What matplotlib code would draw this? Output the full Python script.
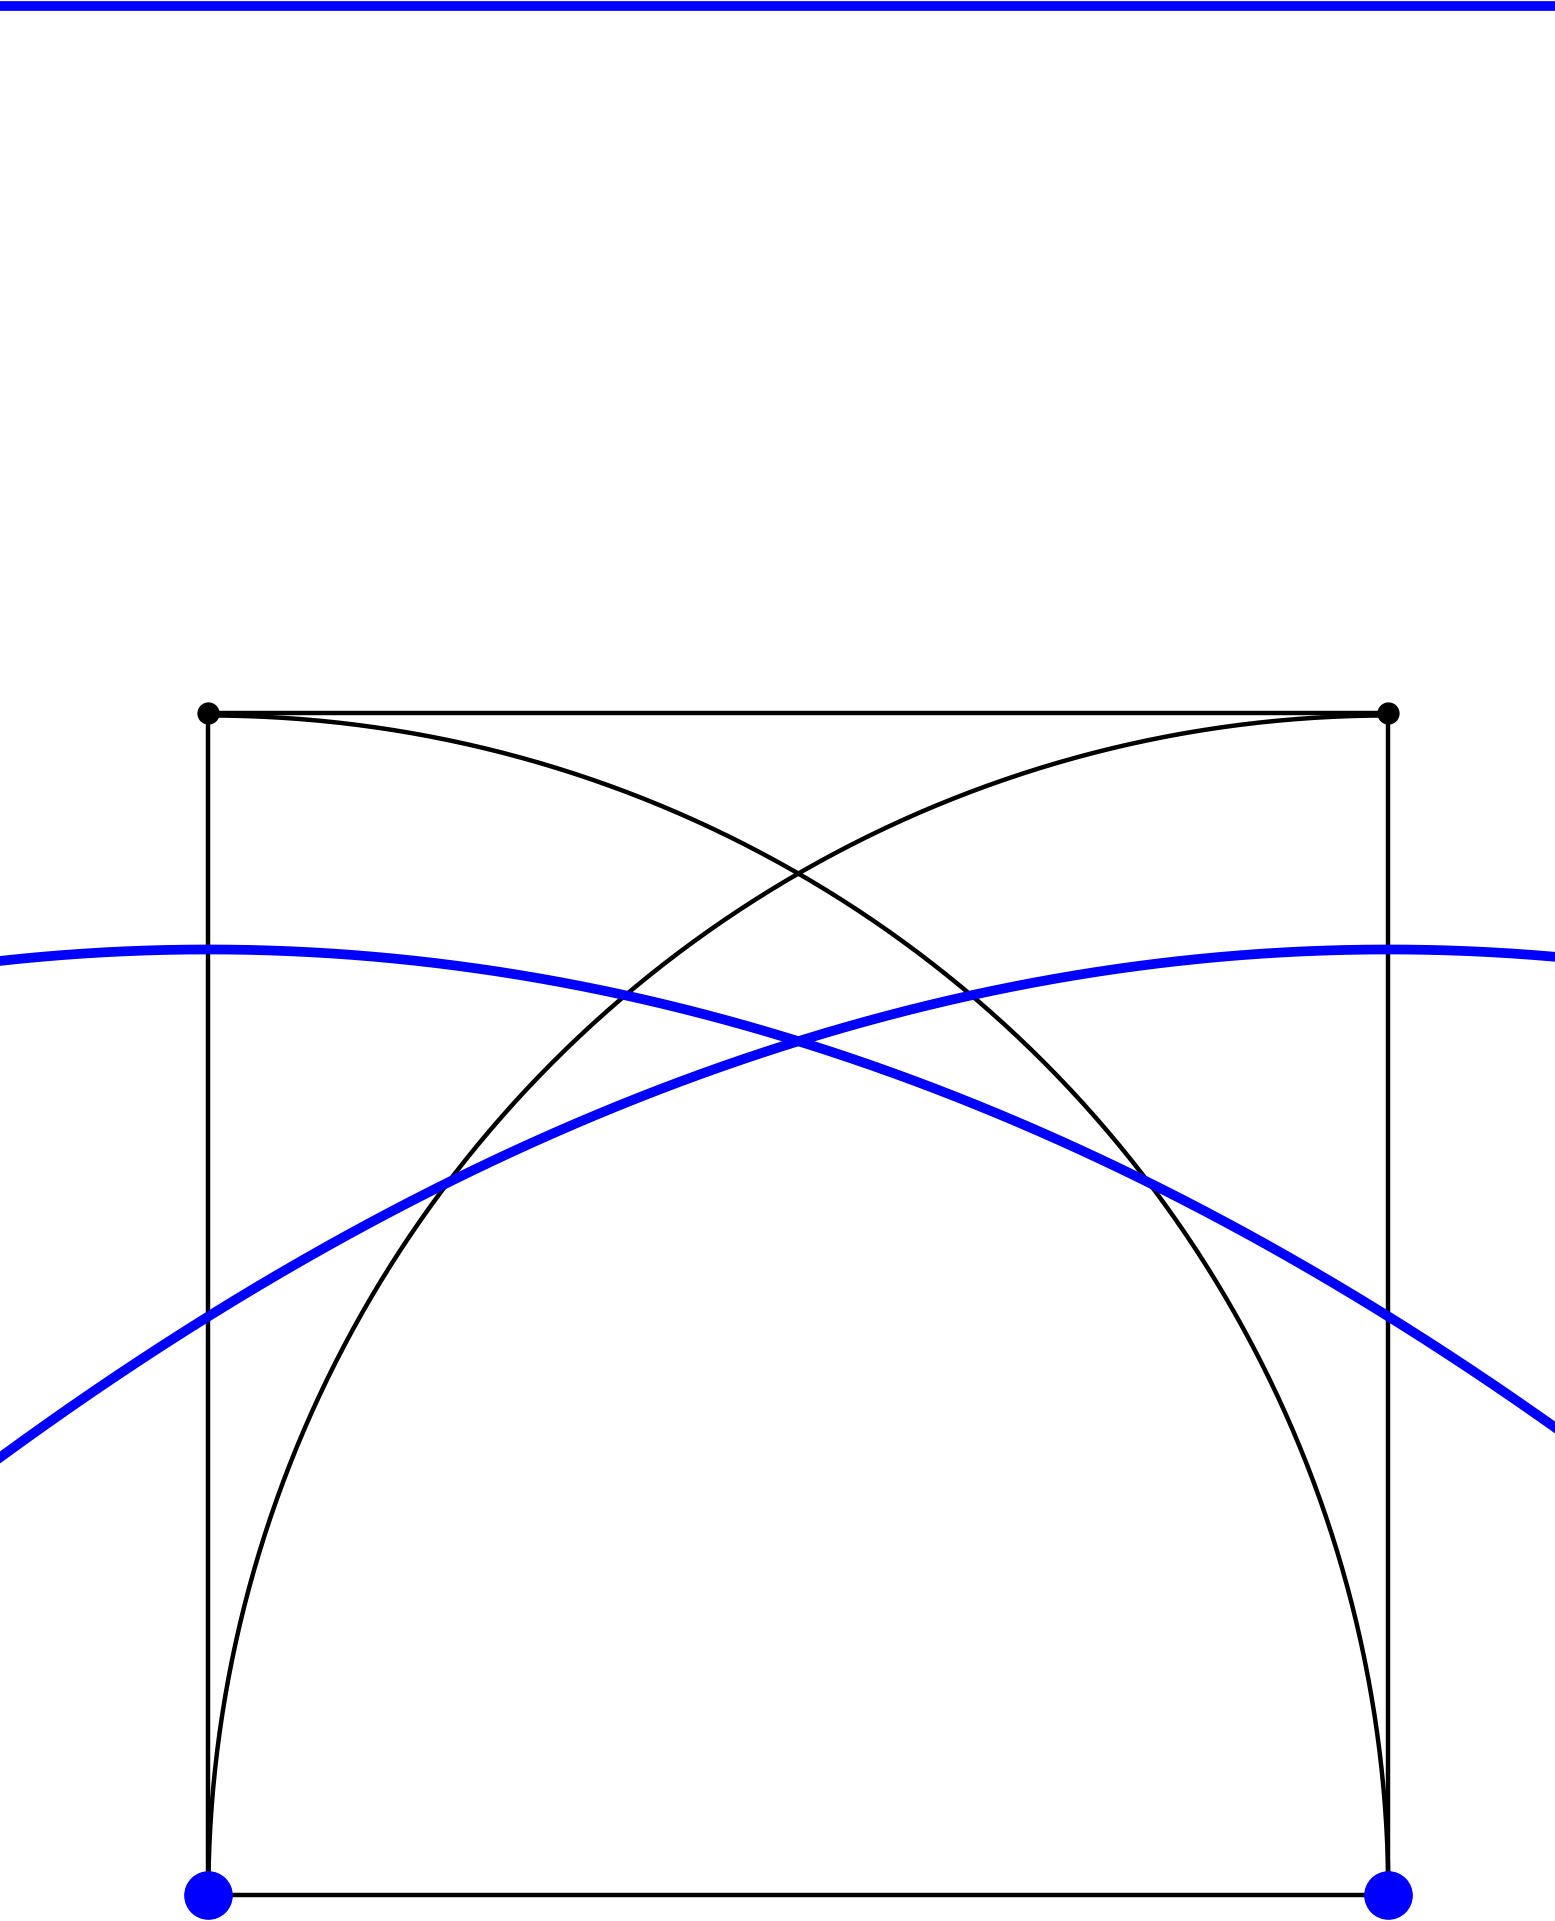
import numpy as np
import matplotlib
matplotlib.use("Agg")
import matplotlib.pyplot as plt

# geometry in reference pixel units (width 1269, height 1568)
square_x = [170, 1133]
square_top = 582
square_bottom = 1547
blue_top_y = 5
blue_peak_y = 775
blue_curvature = 3.23e-4

fig = plt.figure(figsize=(15.55, 19.21), dpi=100)
ax = fig.add_axes([0, 0, 1, 1])
ax.set_xlim(0, 1269)
ax.set_ylim(1568, 0)
ax.axis("off")

L, R = square_x
side = R - L
lw_k = 3.2
ax.plot([L, R], [square_top, square_top], color="black", lw=lw_k)
ax.plot([L, R], [square_bottom, square_bottom], color="black", lw=lw_k)
ax.plot([L, L], [square_top, square_bottom], color="black", lw=lw_k)
ax.plot([R, R], [square_top, square_bottom], color="black", lw=lw_k)

t = np.linspace(0, np.pi / 2, 400)
ax.plot(L + side * np.sin(t), square_bottom - side * np.cos(t), color="black", lw=lw_k)
ax.plot(R - side * np.sin(t), square_bottom - side * np.cos(t), color="black", lw=lw_k)

xs = np.linspace(0, 1269, 600)
for cx in square_x:
    ys = blue_peak_y + blue_curvature * (xs - cx) ** 2
    ax.plot(xs, ys, color="blue", lw=7)

ax.plot([0, 1269], [blue_top_y, blue_top_y], color="blue", lw=7, solid_capstyle="butt")

ax.plot(square_x, [square_top] * 2, "o", color="black", ms=15)
ax.plot(square_x, [square_bottom] * 2, "o", color="blue", ms=34)

fig.savefig("out.png", dpi=100)
